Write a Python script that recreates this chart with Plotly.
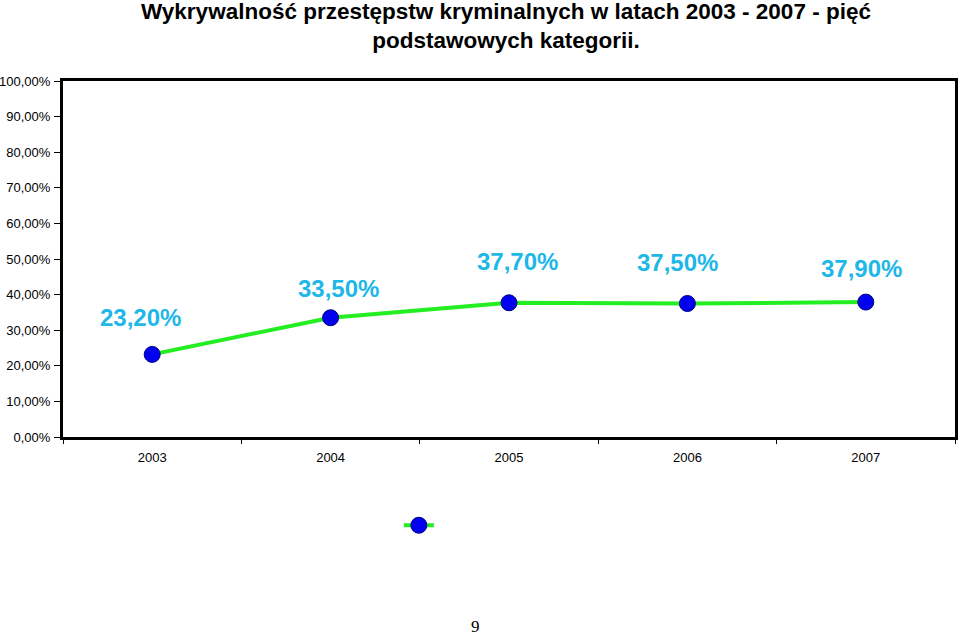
import plotly.graph_objects as go

years = ["2003", "2004", "2005", "2006", "2007"]
values = [0.232, 0.335, 0.377, 0.375, 0.379]
labels = ["23,20%", "33,50%", "37,70%", "37,50%", "37,90%"]
y_ticks = [0, 0.1, 0.2, 0.3, 0.4, 0.5, 0.6, 0.7, 0.8, 0.9, 1.0]

# label offsets (style only)
label_dx = [-12, 8, 8, -10, -4]
label_dy = [37, 29, 41, 41, 34]

fig = go.Figure()
fig.add_trace(go.Scatter(
    x=years, y=values, mode="lines+markers", name=" ",
    line=dict(color="#22EE22", width=4),
    marker=dict(color="#0000EE", size=16, line=dict(color="#000080", width=1)),
    showlegend=True, hoverinfo="skip",
))

for i, (v, t, dx, dy) in enumerate(zip(values, labels, label_dx, label_dy)):
    fig.add_annotation(x=i, y=v, xref="x", yref="y", text="<b>" + t + "</b>", showarrow=False,
                       xshift=dx, yshift=dy,
                       font=dict(family="Liberation Sans, Arial", size=24, color="#1DB7E8"))

fig.add_annotation(xref="paper", yref="paper", x=0.497, y=1.0, yshift=84,
                   text="<b>Wykrywalność przestępstw kryminalnych w latach 2003 - 2007 - pięć<br>podstawowych kategorii.</b>",
                   showarrow=False, yanchor="top", xanchor="center",
                   font=dict(family="Liberation Sans, Arial", size=22.5, color="#000000"))

fig.add_annotation(xref="paper", yref="paper", x=0.4625, y=0, yshift=-189,
                   text="9", showarrow=False, yanchor="middle",
                   font=dict(family="Liberation Serif, Times New Roman", size=17, color="#000000"))

fig.update_layout(
    width=960, height=635,
    margin=dict(l=63, r=5, t=81, b=198),
    paper_bgcolor="white", plot_bgcolor="white",
    separators=", ",
    font=dict(family="Liberation Sans, Arial", size=13, color="#000000"),
    legend=dict(x=0.3765, y=-0.248, xanchor="left", yanchor="middle",
                bgcolor="rgba(0,0,0,0)", font=dict(size=13)),
    xaxis=dict(type="category", range=[-0.5, 4.5], showline=True, linecolor="black",
               linewidth=3, mirror=True, ticks="outside", tickson="boundaries",
               ticklen=4, tickwidth=1, tickcolor="black", showgrid=False, zeroline=False,
               ticklabelstandoff=6, tickfont=dict(size=13), automargin=False),
    yaxis=dict(range=[0, 1.0], tickvals=y_ticks, tickformat=".2%", showline=True,
               linecolor="black", linewidth=3, mirror=True, ticks="outside",
               ticklen=6, tickwidth=1, tickcolor="black", showgrid=False, zeroline=False,
               ticklabelstandoff=1, tickfont=dict(size=13), automargin=False),
)

fig.write_html("out.html")
